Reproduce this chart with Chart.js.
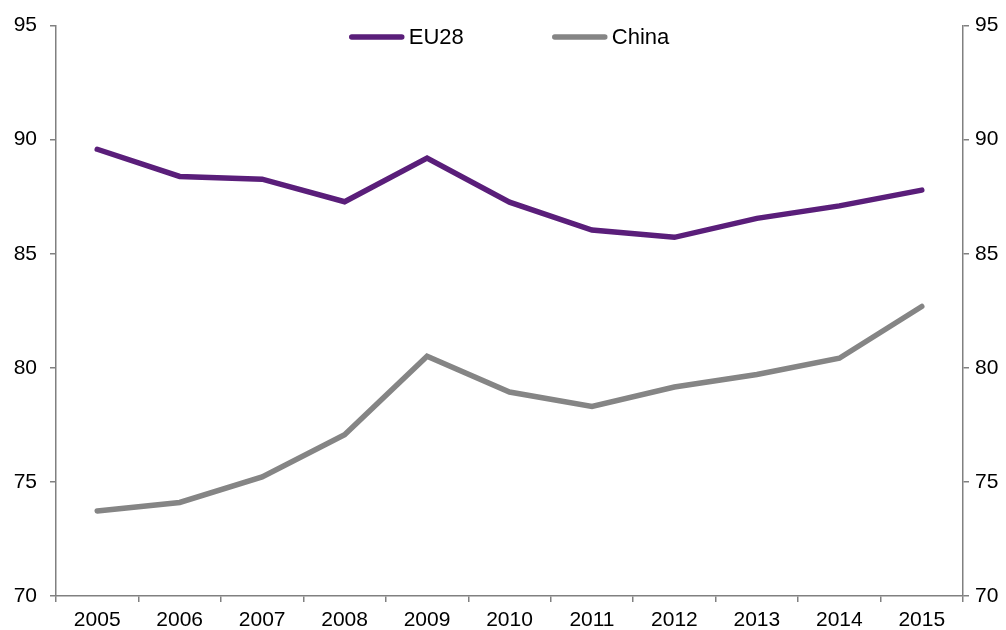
<!DOCTYPE html>
<html>
<head>
<meta charset="utf-8">
<script src="https://cdn.jsdelivr.net/npm/chart.js@4/dist/chart.umd.min.js"></script>
<style>
    html, body { margin: 0; padding: 0; background: #fff; }
    .wrap { width: 1006px; height: 630px; }
</style>
</head>
<body>
<div class="wrap"><canvas id="chart"></canvas></div>
<script>
const years = ["2005", "2006", "2007", "2008", "2009", "2010", "2011", "2012", "2013", "2014", "2015"];
const eu28 = [89.58, 88.39, 88.27, 87.28, 89.19, 87.26, 86.04, 85.72, 86.55, 87.1, 87.79];
const china = [73.73, 74.1, 75.22, 77.07, 80.51, 78.94, 78.31, 79.16, 79.71, 80.42, 82.69];
const yMin = 70;
const yMax = 95;
const yStep = 5;

const axisColor = "#808080";
const fontFamily = "'Liberation Sans', Arial, sans-serif";

// legend drawn inside the plot, centered over the chart area
const topLegend = {
    id: "topLegend",
    afterDraw(chart) {
        const ctx = chart.ctx;
        const area = chart.chartArea;
        const lineLen = 54;
        const gap = 5;
        const itemGap = 89;
        ctx.save();
        ctx.font = "22px " + fontFamily;
        const items = chart.data.datasets.map(ds => ({
            label: ds.label,
            color: ds.borderColor,
            w: lineLen + gap + ctx.measureText(ds.label).width
        }));
        const total = items.reduce((s, it) => s + it.w, 0) + itemGap * (items.length - 1);
        let x = (area.left + area.right) / 2 - total / 2;
        const y = 37;
        for (let it of items) {
            ctx.strokeStyle = it.color;
            ctx.lineWidth = 5.5;
            ctx.lineCap = "round";
            ctx.beginPath();
            ctx.moveTo(x + 2, y);
            ctx.lineTo(x + lineLen - 2, y);
            ctx.stroke();
            ctx.fillStyle = "#000";
            ctx.textBaseline = "middle";
            ctx.textAlign = "left";
            ctx.fillText(it.label, x + lineLen + gap, y + 1);
            x += it.w + itemGap;
        }
        ctx.restore();
    }
};

new Chart(document.getElementById("chart"), {
    type: "line",
    data: {
        labels: years,
        datasets: [{
            label: "EU28",
            data: eu28,
            borderColor: "#5a1e7a",
            borderWidth: 5.5,
            tension: 0,
            pointRadius: 0,
            borderCapStyle: "round",
            yAxisID: "y"
        },
        {
            label: "China",
            data: china,
            borderColor: "#858585",
            borderWidth: 5.5,
            tension: 0,
            pointRadius: 0,
            borderCapStyle: "round",
            yAxisID: "y"
        }]
    },
    options: {
        responsive: true,
        maintainAspectRatio: false,
        animation: false,
        layout: {
            padding: { top: 11, left: 0, right: 0, bottom: 0 }
        },
        plugins: {
            legend: { display: false },
            tooltip: { enabled: false }
        },
        scales: {
            x: {
                offset: true,
                grid: {
                    offset: true,
                    drawOnChartArea: false,
                    drawTicks: true,
                    tickLength: 6,
                    color: axisColor,
                    lineWidth: 1.5
                },
                border: { color: axisColor, width: 1.5 },
                ticks: {
                    color: "#000",
                    padding: 6,
                    maxRotation: 0,
                    font: { family: fontFamily, size: 21 }
                },
                afterFit(scale) { scale.height = 34; }
            },
            y: {
                position: "left",
                min: yMin,
                max: yMax,
                grid: {
                    drawOnChartArea: false,
                    tickLength: 6,
                    color: axisColor,
                    lineWidth: 1.5
                },
                border: { color: axisColor, width: 1.5 },
                ticks: {
                    stepSize: yStep,
                    color: "#000",
                    padding: 13,
                    font: { family: fontFamily, size: 21 }
                },
                afterFit(scale) { scale.width = 56; }
            },
            y2: {
                position: "right",
                min: yMin,
                max: yMax,
                grid: {
                    drawOnChartArea: false,
                    tickLength: 6,
                    color: axisColor,
                    lineWidth: 1.5
                },
                border: { color: axisColor, width: 1.5 },
                ticks: {
                    stepSize: yStep,
                    color: "#000",
                    padding: 6,
                    font: { family: fontFamily, size: 21 }
                },
                afterFit(scale) { scale.width = 43; }
            }
        }
    },
    plugins: [topLegend]
});
</script>
</body>
</html>
